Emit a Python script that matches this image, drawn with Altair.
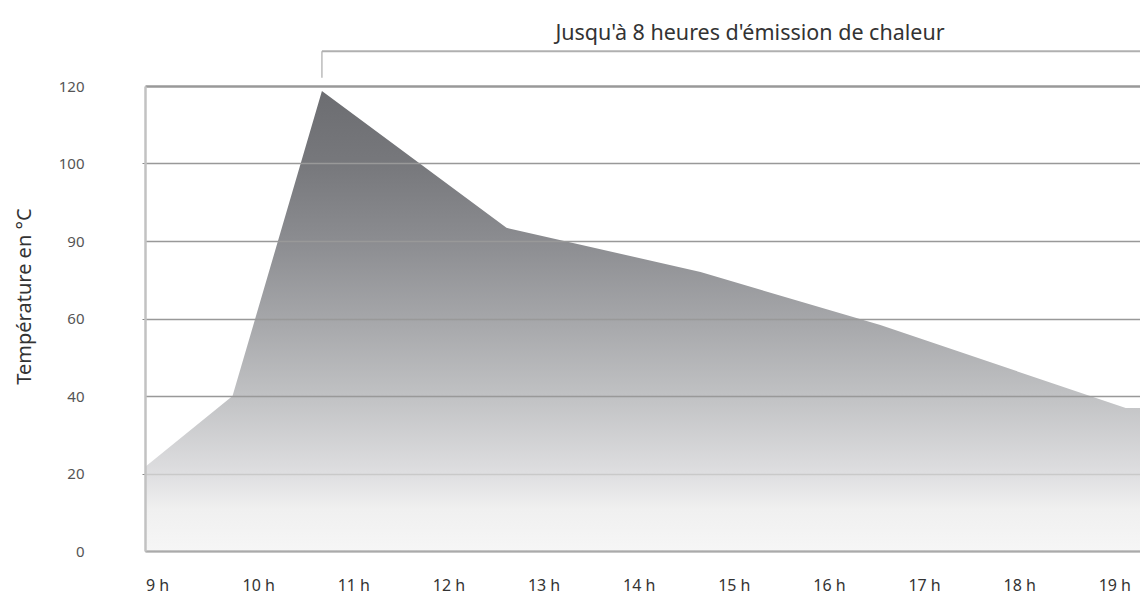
import altair as alt
import pandas as pd

# ---- data ----
hours = [8.81, 9.73, 10.67, 12.61, 14.65, 16.54, 19.12, 19.27]
temps = [21.7, 40.0, 118.7, 91.7, 78.0, 58.3, 36.9, 36.9]

y_ticks = [0, 20, 40, 60, 90, 100, 120]
x_ticks = [9, 10, 11, 12, 13, 14, 15, 16, 17, 18, 19]

title_text = "Jusqu'à 8 heures d'émission de chaleur"
y_title = "Température en °C"

# bracket annotation ("up to 8 hours"), starting at the peak
bracket_start = [10.67]
bracket_end = [19.27]
bracket_low = [122.1]
bracket_high = [129.0]

W, H = 995, 465
FONT = "Noto Sans"

df = pd.DataFrame({"h": hours, "t": temps})
br = pd.DataFrame({"x": bracket_start, "x2": bracket_end,
                   "ylo": bracket_low, "yhi": bracket_high})

xscale = alt.Scale(domain=[hours[0], hours[-1]], nice=False, zero=False)
yscale = alt.Scale(domain=y_ticks,
                   range=[H * (1 - i / 6) for i in range(7)],
                   nice=False, zero=False)

gradient = alt.Gradient(
    gradient="linear", x1=0, y1=0, x2=0, y2=1,
    stops=[
        alt.GradientStop(offset=0.0, color="#6c6d71"),
        alt.GradientStop(offset=0.16, color="#77787c"),
        alt.GradientStop(offset=0.33, color="#8c8d91"),
        alt.GradientStop(offset=0.50, color="#a6a7aa"),
        alt.GradientStop(offset=0.66, color="#c0c1c3"),
        alt.GradientStop(offset=0.83, color="#dedee0"),
        alt.GradientStop(offset=0.91, color="#f0f0f0"),
        alt.GradientStop(offset=1.0, color="#f6f6f6"),
    ],
)

x_axis = alt.Axis(
    values=x_ticks, labelExpr="datum.value + ' h'", grid=False, ticks=False,
    tickSize=0, domainColor="#aaaaaa", domainWidth=2, labelFont=FONT,
    labelFontSize=16, labelColor="#333333", labelPadding=39,
    labelOffset={"condition": {"test": "datum.value === 9", "value": -6},
                 "value": 0},
    labelBaseline="alphabetic", labelFlush=False, title=None, zindex=1,
)

y_axis = alt.Axis(
    values=y_ticks, grid=True,
    gridColor={"condition": {"test": "datum.value === 20", "value": "#c9c9c9"},
               "value": "#999999"},
    gridWidth={"condition": {"test": "datum.value === 120", "value": 2.5},
               "value": 1.5},
    tickSize=3,
    tickColor={"condition": {"test": "indexof([20, 60, 100], datum.value) >= 0",
                             "value": "#888888"},
               "value": "transparent"},
    domainColor="#c2c2c2", domainWidth=2.5,
    labelFont=FONT, labelFontSize=15, labelColor="#555555", labelPadding=58,
    title=y_title, titleFont=FONT, titleFontSize=20, titleFontWeight="normal",
    titleColor="#333333", titleX=-115, titleY=210, titleAngle=-90,
    titleAlign="center", titleBaseline="alphabetic", zindex=1,
)

area = alt.Chart(df).mark_area(color=gradient, line=False, interpolate="linear").encode(
    x=alt.X("h:Q", scale=xscale, axis=x_axis),
    y=alt.Y("t:Q", scale=yscale, axis=y_axis),
)

vrule = alt.Chart(br).mark_rule(color="#aaaaaa", strokeWidth=1.2).encode(
    x=alt.X("x:Q", scale=xscale),
    y=alt.Y("ylo:Q", scale=yscale),
    y2="yhi:Q",
)

hrule = alt.Chart(br).mark_rule(color="#b0b0b0", strokeWidth=2).encode(
    x=alt.X("x:Q", scale=xscale),
    x2="x2:Q",
    y=alt.Y("yhi:Q", scale=yscale),
)

chart = alt.layer(area, vrule, hrule).properties(
    width=W, height=H,
    autosize="none",
    padding={"left": 137, "top": 78, "right": 0, "bottom": 44},
    title=alt.TitleParams(
        text=title_text, anchor="middle", frame="group", dx=107.5, dy=21,
        offset=10, baseline="alphabetic", font=FONT, fontSize=21.5,
        fontWeight="normal", color="#333333",
    ),
).configure_view(fill="#e9e9e9", strokeWidth=0).configure(background="white")

chart.save("out.html", embed_options={"renderer": "svg", "actions": False})
